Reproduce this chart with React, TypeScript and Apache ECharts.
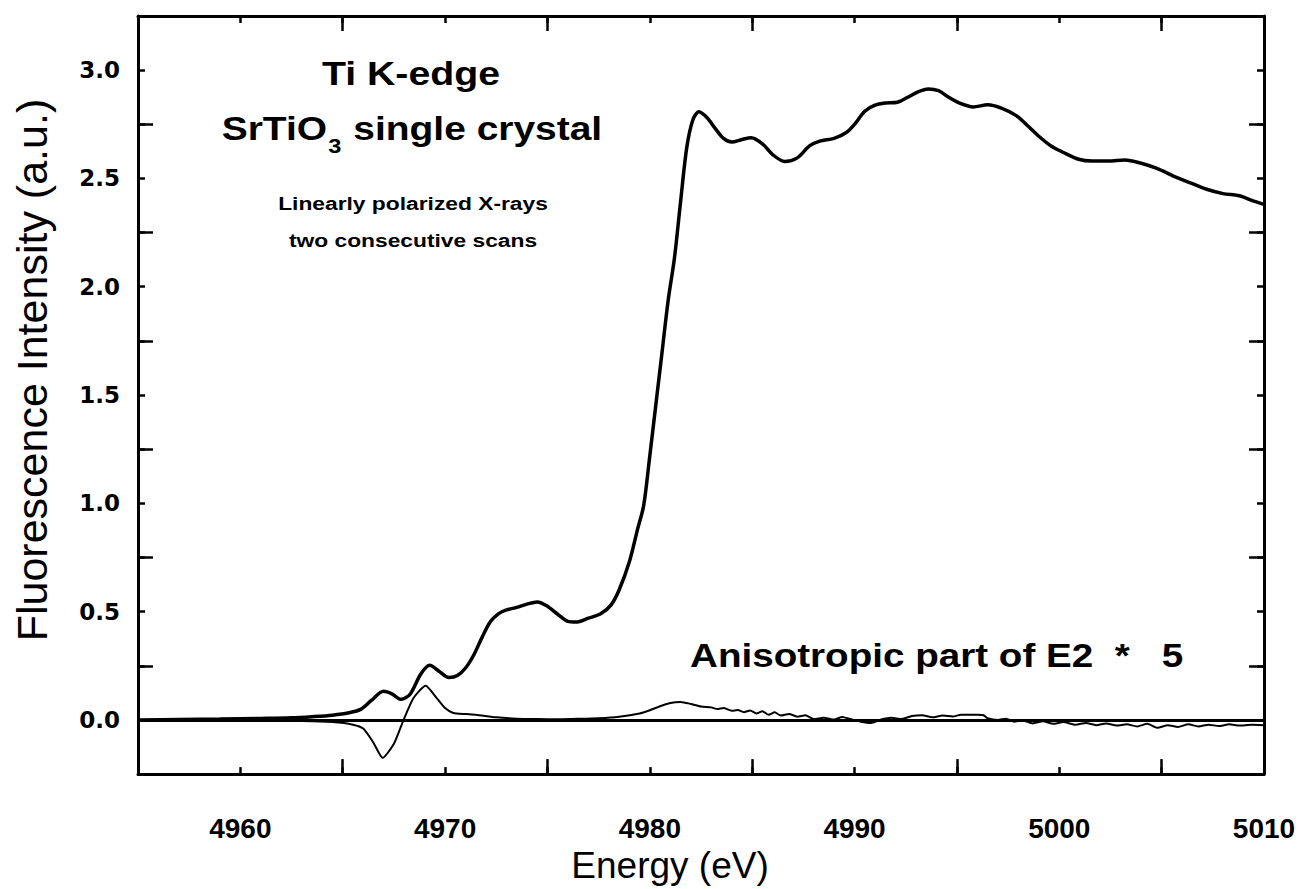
import React, { useEffect, useRef } from "react";
import * as echarts from "echarts";

// ---- axis ticks / labels ----
const xLabelValues = [4960, 4970, 4980, 4990, 5000, 5010];
const yLabelValues = [0, 0.5, 1, 1.5, 2, 2.5, 3];

// ---- main XANES spectrum (energy eV, intensity a.u.) ----
const mainEnergy = [
  4955.0, 4957.0, 4959.0, 4961.0, 4962.5, 4963.5, 4964.5, 4965.3, 4965.9, 4966.4,
  4967.0, 4967.4, 4967.85, 4968.3, 4968.8, 4969.25, 4969.7, 4970.2, 4970.6, 4971.0,
  4971.4, 4971.8, 4972.2, 4972.6, 4973.0, 4973.5, 4974.0, 4974.5, 4975.0, 4975.5,
  4976.0, 4976.4, 4977.0, 4977.6, 4978.1, 4978.5, 4979.0, 4979.4, 4979.7, 4980.0,
  4980.3, 4980.6, 4980.9, 4981.2, 4981.5, 4981.8, 4982.1, 4982.4, 4982.8, 4983.2,
  4983.6, 4984.0, 4984.5, 4984.95, 4985.5, 4986.0, 4986.6, 4987.2, 4987.8, 4988.3,
  4989.0, 4989.6, 4990.0, 4990.5, 4991.0, 4991.5, 4992.1, 4992.6, 4993.1, 4993.6,
  4994.1, 4994.6, 4995.2, 4995.8, 4996.5, 4997.2, 4997.9, 4998.5, 4999.0, 4999.6,
  5000.2, 5000.9, 5001.6, 5002.4, 5003.2, 5004.0, 5004.8, 5005.6, 5006.4, 5007.2,
  5008.0, 5008.8, 5009.5, 5010.0,
];
const mainIntensity = [
  0.0, 0.002, 0.004, 0.007, 0.01, 0.015, 0.022, 0.033, 0.05, 0.09,
  0.132, 0.12, 0.095, 0.12, 0.21, 0.252, 0.225, 0.196, 0.205, 0.24,
  0.3, 0.38, 0.452, 0.49, 0.508, 0.52, 0.535, 0.545, 0.525, 0.488,
  0.455, 0.452, 0.47, 0.49, 0.53, 0.6, 0.73, 0.88, 0.99, 1.22,
  1.46, 1.7, 1.94, 2.13, 2.39, 2.64, 2.77, 2.808, 2.78, 2.73,
  2.685, 2.668, 2.68, 2.688, 2.66, 2.61, 2.578, 2.595, 2.65, 2.672,
  2.685, 2.712, 2.75, 2.81, 2.838, 2.848, 2.852, 2.875, 2.9, 2.913,
  2.905, 2.875, 2.845, 2.83, 2.84, 2.824, 2.79, 2.74, 2.695, 2.65,
  2.62, 2.59, 2.58, 2.58, 2.585, 2.57, 2.545, 2.51, 2.48, 2.45,
  2.43, 2.42, 2.395, 2.38,
];

// ---- anisotropic part of E2 (x5) ----
const anisoEnergy = [
  4955.0, 4957.0, 4960.0, 4963.0, 4964.5, 4965.5, 4966.0, 4966.5, 4966.95, 4967.5,
  4967.95, 4968.45, 4969.05, 4969.6, 4970.0, 4970.4, 4971.0, 4971.5, 4972.5, 4973.5,
  4974.5, 4975.5, 4976.5, 4977.5, 4978.5, 4979.5, 4980.0, 4980.5, 4981.0, 4981.5,
  4982.0, 4982.5, 4983.0, 4983.3, 4983.6, 4984.0, 4984.3, 4984.6, 4984.9, 4985.2,
  4985.5, 4985.8, 4986.1, 4986.4, 4986.8, 4987.2, 4987.6, 4988.0, 4988.5, 4989.0,
  4989.4, 4989.8, 4990.3, 4990.8, 4991.3, 4991.8, 4992.3, 4992.8, 4993.3, 4993.8,
  4994.3, 4994.8, 4995.2, 4995.6, 4996.0, 4996.3, 4996.5, 4997.0, 4997.4, 4997.8,
  4998.2, 4998.7, 4999.2, 4999.7, 5000.2, 5000.8, 5001.3, 5001.8, 5002.3, 5002.8,
  5003.3, 5003.8, 5004.3, 5004.8, 5005.3, 5005.8, 5006.3, 5006.8, 5007.3, 5007.8,
  5008.3, 5008.8, 5009.4, 5010.0,
];
const anisoIntensity = [
  0.0, 0.0, -0.002, -0.005, -0.01, -0.022, -0.04, -0.105, -0.175, -0.11,
  -0.005, 0.1, 0.158, 0.1, 0.055, 0.032, 0.027, 0.024, 0.012, 0.006,
  0.004, 0.003, 0.005, 0.008, 0.015, 0.03, 0.045, 0.063, 0.078, 0.083,
  0.074, 0.062, 0.058, 0.05, 0.055, 0.042, 0.046, 0.036, 0.044, 0.03,
  0.04, 0.024, 0.035, 0.02, 0.028, 0.015, 0.022, 0.004, 0.01, 0.002,
  0.014, 0.004, -0.008, -0.014, 0.002, 0.01, 0.004, 0.018, 0.022, 0.012,
  0.02, 0.016, 0.024, 0.024, 0.024, 0.022, 0.008, 0.0, 0.006, -0.008,
  -0.002, -0.016, -0.006, -0.018, -0.01, -0.022, -0.014, -0.024, -0.016, -0.026,
  -0.02, -0.03, -0.018, -0.036, -0.024, -0.032, -0.02, -0.03, -0.022, -0.028,
  -0.02, -0.026, -0.022, -0.024,
];

const X_MIN = 4955;
const X_MAX = 5010;
const X_MAJOR = 10;
const X_MINOR = 5;
const Y_MIN = -0.25;
const Y_MAX = 3.25;
const Y_MAJOR = 0.5;
const Y_MINOR = 0.25;

const SANS = '"Liberation Sans", Arial, Helvetica, sans-serif';
const WIDE = '"DejaVu Sans", Verdana, sans-serif';

function measure(text: string, font: string): number {
  const ctx = document.createElement("canvas").getContext("2d");
  if (!ctx) return text.length * 15;
  ctx.font = font;
  return ctx.measureText(text).width;
}

function hasFont(name: string): boolean {
  const a = measure("4960 Energy", `bold 30px "${name}", monospace`);
  const b = measure("4960 Energy", "bold 30px monospace");
  return Math.abs(a - b) > 0.5;
}

export default function App() {
  const ref = useRef<HTMLDivElement>(null);

  useEffect(() => {
    if (!ref.current) return;
    const chart = echarts.init(ref.current, undefined, { renderer: "svg" });

    const mainData = mainEnergy.map((e, i) => [e, mainIntensity[i]]);
    const anisoData = anisoEnergy.map((e, i) => [e, anisoIntensity[i]]);

    const narrowOk = hasFont("Liberation Sans Narrow");
    const xLabelFont = narrowOk
      ? { fontFamily: '"Liberation Sans Narrow", sans-serif', fontSize: 30 }
      : { fontFamily: SANS, fontSize: 28 };

    const lineCol = "#000";
    const frame = { show: true, onZero: false, lineStyle: { color: lineCol, width: 3 } };
    const noLine = { show: false, onZero: false };
    const ticks = (len: number) => ({
      show: true,
      inside: true,
      length: len,
      lineStyle: { color: lineCol, width: 2.5 },
    });

    const xAx = (position: string, interval: number, extra: any) => ({
      type: "value",
      min: X_MIN,
      max: X_MAX,
      interval,
      position,
      splitLine: { show: false },
      ...extra,
    });
    const yAx = (position: string, interval: number, extra: any) => ({
      type: "value",
      min: Y_MIN,
      max: Y_MAX,
      interval,
      position,
      splitLine: { show: false },
      ...extra,
    });

    const titleFont = 33;
    const bigFont = `bold ${titleFont}px ${SANS}`;
    const subFont = `bold 20px ${SANS}`;
    const w1 = measure("SrTiO", bigFont);
    const w3 = measure("3", subFont) + 2;
    const w2 = measure(" single crystal", bigFont);
    const start = -(w1 + w3 + w2) / 2;

    const tx = (text: string, x: number, y: number, size: number, align = "center") => ({
      type: "text",
      x,
      y,
      style: {
        text,
        fill: "#000",
        fontFamily: SANS,
        fontWeight: "bold",
        fontSize: size,
        align,
        verticalAlign: "middle",
      },
    });

    chart.setOption({
      animation: false,
      backgroundColor: "#fff",
      grid: { left: 138, right: 35, top: 16, bottom: 112, containLabel: false },
      xAxis: [
        xAx("bottom", X_MAJOR, {
          axisLine: frame,
          axisTick: ticks(15),
          axisLabel: {
            customValues: xLabelValues,
            formatter: (v: number) => String(v),
            margin: 40,
            color: "#000",
            fontWeight: "bold",
            ...xLabelFont,
          },
          name: "Energy (eV)",
          nameLocation: "middle",
          nameGap: 50,
          nameTextStyle: {
            color: "#000",
            fontFamily: SANS,
            fontSize: 37,
            padding: [0, 62, 0, 0],
          },
        }),
        xAx("bottom", X_MINOR, { axisLine: noLine, axisTick: ticks(7), axisLabel: { show: false } }),
        xAx("top", X_MAJOR, { axisLine: frame, axisTick: ticks(15), axisLabel: { show: false } }),
        xAx("top", X_MINOR, { axisLine: noLine, axisTick: ticks(7), axisLabel: { show: false } }),
      ],
      yAxis: [
        yAx("left", Y_MAJOR, {
          axisLine: frame,
          axisTick: ticks(15),
          axisLabel: {
            customValues: yLabelValues,
            formatter: (v: number) => v.toFixed(1),
            margin: 18,
            color: "#000",
            fontFamily: WIDE,
            fontWeight: "bold",
            fontSize: 23,
          },
          name: "Fluorescence Intensity (a.u.)",
          nameLocation: "middle",
          nameGap: 85,
          nameTextStyle: {
            color: "#000",
            fontFamily: SANS,
            fontSize: 43,
            padding: [0, 0, 0, 50],
          },
        }),
        yAx("left", Y_MINOR, { axisLine: noLine, axisTick: ticks(7), axisLabel: { show: false } }),
        yAx("right", Y_MAJOR, { axisLine: frame, axisTick: ticks(15), axisLabel: { show: false } }),
        yAx("right", Y_MINOR, { axisLine: noLine, axisTick: ticks(7), axisLabel: { show: false } }),
      ],
      series: [
        {
          name: "Anisotropic part of E2 x5",
          type: "line",
          xAxisIndex: 0,
          yAxisIndex: 0,
          data: anisoData,
          showSymbol: false,
          smooth: 0.2,
          lineStyle: { color: "#000", width: 2 },
          markLine: {
            silent: true,
            symbol: "none",
            label: { show: false },
            lineStyle: { color: "#000", width: 3, type: "solid" },
            data: [{ yAxis: 0 }],
          },
          z: 2,
        },
        {
          name: "Ti K-edge fluorescence",
          type: "line",
          xAxisIndex: 0,
          yAxisIndex: 0,
          data: mainData,
          showSymbol: false,
          smooth: 0.3,
          lineStyle: { color: "#000", width: 3.5 },
          z: 3,
        },
      ],
      graphic: [
        {
          type: "group",
          x: 411,
          y: 0,
          scaleX: 1.19,
          children: [tx("Ti K-edge", 0, 74, titleFont)],
        },
        {
          type: "group",
          x: 412,
          y: 0,
          scaleX: 1.18,
          children: [
            tx("SrTiO", start, 129, titleFont, "left"),
            tx("3", start + w1 + 1, 146, 20, "left"),
            tx(" single crystal", start + w1 + w3, 129, titleFont, "left"),
          ],
        },
        {
          type: "group",
          x: 413,
          y: 0,
          scaleX: 1.2,
          children: [
            tx("Linearly polarized X-rays", 0, 203, 19),
            tx("two consecutive scans", 0, 240, 19),
          ],
        },
        {
          type: "group",
          x: 690,
          y: 0,
          scaleX: 1.17,
          children: [tx("Anisotropic part of E2  *   5", 0, 656, titleFont, "left")],
        },
      ],
    });

    return () => chart.dispose();
  }, []);

  return (
    <div
      ref={ref}
      style={{ position: "absolute", left: 0, top: 0, width: 1299, height: 889 }}
    />
  );
}
